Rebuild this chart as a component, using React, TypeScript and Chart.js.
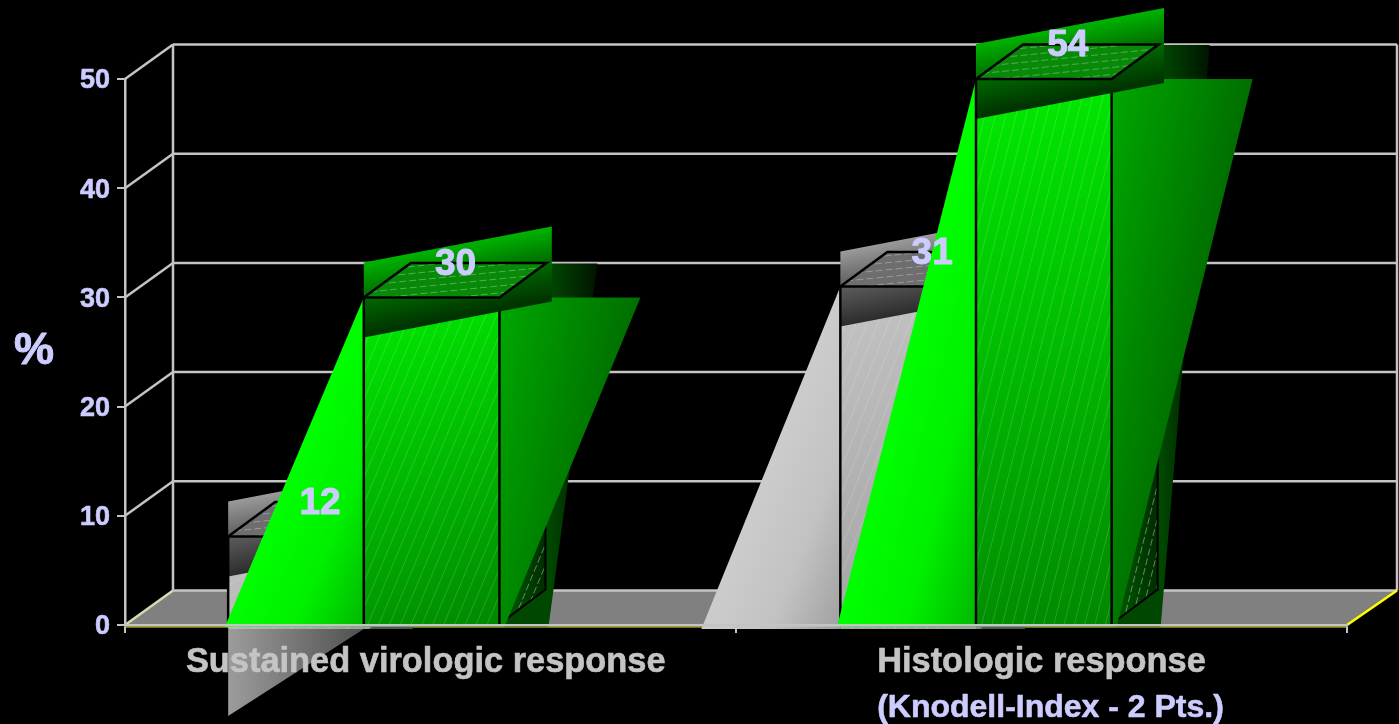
import React, { useEffect, useRef } from "react";
import { Chart, registerables } from "chart.js";

Chart.register(...registerables);

const categories = ["Sustained virologic response", "Histologic response"];
const subLabels = ["", "(Knodell-Index - 2 Pts.)"];
const yTicks = [0, 10, 20, 30, 40, 50];
// Bar heights as drawn in the picture (the 54 bar stops at the axis top)
const greySeries = [8.1, 31];
const greenSeries = [30, 50];
// Values printed on the bars
const greyLabels = ["12", "31"];
const greenLabels = ["30", "54"];

const SANS = '"Liberation Sans", Arial, sans-serif';
const LABEL = "#ccccff";
const AXIS = "#c4c4c4";
const DX = 48;
const DY = -34.5;
const BAR_SHIFTS = [-66.7, -65.5];

type P = [number, number];

const GREY = {
  wing: ["#cccccc", "#c2c2c2", "#a0a0a0"],
  face: ["#c4c4c4", "#a0a0a0"],
  band: ["#9a9a9a", "#5a5a5a", "#2c2c2c"],
  top: "#6e6e6e",
  side: ["#777777", "#444444"],
  dark: ["#555555", "#222222"],
  rwing: ["#aaaaaa", "#666666"],
};
const GREEN = {
  wing: ["#00ff00", "#00f000", "#00b800"],
  face: ["#00ee00", "#008800"],
  band: ["#00b400", "#006600", "#003000"],
  top: "#088a08",
  side: ["#006000", "#002a00"],
  dark: ["#004800", "#001400"],
  rwing: ["#00a800", "#006c00"],
};

function path(ctx: CanvasRenderingContext2D, pts: P[]) {
  ctx.beginPath();
  pts.forEach((p, i) => (i ? ctx.lineTo(p[0], p[1]) : ctx.moveTo(p[0], p[1])));
  ctx.closePath();
}

function linear(ctx: CanvasRenderingContext2D, a: P, b: P, stops: string[]) {
  const g = ctx.createLinearGradient(a[0], a[1], b[0], b[1]);
  stops.forEach((c, i) => g.addColorStop(i / (stops.length - 1), c));
  return g;
}

function fillPoly(ctx: CanvasRenderingContext2D, pts: P[], fill: any) {
  path(ctx, pts);
  ctx.fillStyle = fill;
  ctx.fill();
}

function hatch(
  ctx: CanvasRenderingContext2D,
  pts: P[],
  dir: P,
  spacing: number,
  dash: number[],
  color: string
) {
  const xs = pts.map((p) => p[0]);
  const ys = pts.map((p) => p[1]);
  const minX = Math.min(...xs), maxX = Math.max(...xs);
  const minY = Math.min(...ys), maxY = Math.max(...ys);
  const cx = (minX + maxX) / 2, cy = (minY + maxY) / 2;
  const R = Math.hypot(maxX - minX, maxY - minY);
  const len = Math.hypot(dir[0], dir[1]);
  const ux = dir[0] / len, uy = dir[1] / len;
  const nx = -uy, ny = ux;
  ctx.save();
  path(ctx, pts);
  ctx.clip();
  ctx.strokeStyle = color;
  ctx.lineWidth = 1;
  ctx.setLineDash(dash);
  for (let o = -R; o <= R; o += spacing) {
    ctx.beginPath();
    ctx.moveTo(cx + nx * o - ux * R, cy + ny * o - uy * R);
    ctx.lineTo(cx + nx * o + ux * R, cy + ny * o + uy * R);
    ctx.stroke();
  }
  ctx.restore();
}

function line(ctx: CanvasRenderingContext2D, a: P, b: P, color: string, w: number) {
  ctx.beginPath();
  ctx.moveTo(a[0], a[1]);
  ctx.lineTo(b[0], b[1]);
  ctx.strokeStyle = color;
  ctx.lineWidth = w;
  ctx.stroke();
}

function boldText(ctx: CanvasRenderingContext2D, t: string, x: number, y: number, w: number) {
  ctx.strokeStyle = ctx.fillStyle as string;
  ctx.lineWidth = w;
  ctx.lineJoin = "round";
  ctx.strokeText(t, x, y);
  ctx.fillText(t, x, y);
}

function drawBar(ctx: CanvasRenderingContext2D, el: any, shift: number, pal: typeof GREEN, isGreen: boolean) {
  const x0 = el.x - el.width / 2 + shift;
  const x1 = el.x + el.width / 2 + shift;
  const top = el.y;
  const base = el.base;
  const h = base - top;
  const short = h < 120;
  const low = base + (isGreen ? 3 : 5);

  // dark receding shadow behind the bar
  fillPoly(
    ctx,
    [[x1 + 51, top - 34], [x1 + 98, top - 34], [x1 + 49, low], [x1 + 5, low]],
    linear(ctx, [x1, top], [x1 + 98, top], [pal.dark[0], pal.dark[0], pal.dark[1]])
  );

  // side face with hatch
  const side: P[] = [[x1, top], [x1 + DX - 2, top + DY], [x1 + DX - 2, base + DY], [x1, base]];
  fillPoly(ctx, side, linear(ctx, [x1, top], [x1 + DX, top], pal.side));
  hatch(ctx, side, [136, -h], 8, [7, 3], "rgba(255,255,255,0.4)");
  path(ctx, side);
  ctx.strokeStyle = "#000";
  ctx.lineWidth = 2;
  ctx.stroke();

  // right wing
  fillPoly(
    ctx,
    [[x1, top], [x1 + 141, top], [x1 + 5, low], [x1, low]],
    linear(ctx, [x1, top], [x1 + 141, top + 30], pal.rwing)
  );

  // front face
  const face: P[] = [[x0, top], [x1, top], [x1, low], [x0, low]];
  fillPoly(ctx, face, linear(ctx, [x0, top], [x1, base], pal.face));
  hatch(ctx, face, [136, -h], 10, [], "rgba(255,255,255,0.16)");

  // left wing, or the downward wing on the short bar
  if (short) {
    fillPoly(
      ctx,
      [[x0, low], [x1, low], [x0, low + 87]],
      linear(ctx, [x0, low], [x1, low], ["#9c9c9c", "#505050"])
    );
  } else {
    const w = 139;
    const H = low - top;
    const L = Math.hypot(w, H);
    const d = (w * H) / L;
    const nx = H / L, ny = w / L;
    const corner: P = [x0, low];
    fillPoly(
      ctx,
      [[x0 - w, low], [x0, top], [x0, low]],
      linear(ctx, [corner[0] - nx * d, corner[1] - ny * d], corner, pal.wing)
    );
  }

  // front outlines
  line(ctx, [x1, top], [x1, base], "#000", 2.5);

  // shaded band across the bar top
  const W = 188;
  const band: P[] = [[x0, top - 35], [x0 + W, top - 71], [x0 + W, top + 4], [x0, top + 40]];
  const mid: P = [x0 + W / 2, top - 53];
  fillPoly(ctx, band, linear(ctx, mid, [mid[0] + 14, mid[1] + 72], pal.band));

  // top face
  const lid: P[] = [[x0, top], [x0 + 47, top + DY], [x1 + 47, top + DY], [x1, top]];
  fillPoly(ctx, lid, pal.top);
  hatch(ctx, lid, [1, -0.1], 7, [7, 3], "rgba(255,255,255,0.3)");
  path(ctx, lid);
  ctx.strokeStyle = "#000";
  ctx.lineWidth = 2.5;
  ctx.stroke();
  line(ctx, [x0, top], [x0, base], "#000", 2.5);
}

const scene = {
  id: "scene3d",
  beforeDatasetsDraw(chart: any) {
    const { ctx, scales } = chart;
    const x = scales.x;
    const y = scales.y;
    const left = x.left;
    const right = x.right;
    const y0 = y.getPixelForValue(0);
    ctx.save();
    // floor
    fillPoly(
      ctx,
      [[left, y0], [left + DX, y0 + DY], [right + 50, y0 + DY], [right, y0]],
      "#808080"
    );
    line(ctx, [left, y0 + 2], [right, y0 + 2], "#e8e800", 1);
    // back wall and left wall
    yTicks.forEach((v) => {
      const py = y.getPixelForValue(v);
      line(ctx, [left, py], [left + DX, py + DY], v === 0 ? "#d8d8b0" : AXIS, 2.5);
      line(ctx, [left + DX, py + DY], [right + 50, py + DY], AXIS, 2.5);
    });
    const yTop = y.getPixelForValue(50);
    line(ctx, [left + DX, yTop + DY], [left + DX, y0 + DY], AXIS, 2.5);
    line(ctx, [right + 50, yTop + DY], [right + 50, y0 + DY], AXIS, 2.5);
    line(ctx, [right, y0], [right + 50, y0 + DY], "#ffff00", 2.5);

    // bars, grey under green
    const grey = chart.getDatasetMeta(0).data;
    const green = chart.getDatasetMeta(1).data;
    categories.forEach((_, i) => {
      drawBar(ctx, grey[i], BAR_SHIFTS[i], GREY as any, false);
      drawBar(ctx, green[i], BAR_SHIFTS[i], GREEN, true);
    });
    ctx.restore();
    return false;
  },
  afterDraw(chart: any) {
    const { ctx, scales } = chart;
    ctx.save();
    ctx.textAlign = "center";
    ctx.textBaseline = "middle";
    ctx.fillStyle = LABEL;
    // value labels
    ctx.font = `bold 37px ${SANS}`;
    [chart.getDatasetMeta(0).data, chart.getDatasetMeta(1).data].forEach((els: any[], s) => {
      const labs = s === 0 ? greyLabels : greenLabels;
      els.forEach((el, i) => {
        boldText(ctx, labs[i], el.x + BAR_SHIFTS[i] + 24, el.y - 33, 1);
      });
    });
    // axis unit
    ctx.font = `bold 45px ${SANS}`;
    boldText(ctx, "%", 34, 352, 1);
    // second line of the category label
    subLabels.forEach((t, i) => {
      if (!t) return;
      ctx.font = `bold 34.4px ${SANS}`;
      const w = ctx.measureText(categories[i]).width;
      const lx = scales.x.getPixelForValue(i) - w / 2;
      ctx.font = `bold 32px ${SANS}`;
      ctx.textAlign = "left";
      boldText(ctx, t, lx, 708, 0.6);
    });
    ctx.restore();
  },
};

export default function App() {
  const ref = useRef<HTMLCanvasElement>(null);
  useEffect(() => {
    const chart = new Chart(ref.current as HTMLCanvasElement, {
      type: "bar",
      data: {
        labels: categories,
        datasets: [
          { label: "Grey", data: greySeries, backgroundColor: "#c0c0c0" },
          { label: "Green", data: greenSeries, backgroundColor: "#00c000" },
        ],
      },
      options: {
        responsive: false,
        animation: false,
        events: [],
        layout: { padding: { left: 0, right: 52, top: 79, bottom: 0 } },
        datasets: { bar: { categoryPercentage: 0.444, barPercentage: 1 } },
        plugins: { legend: { display: false }, tooltip: { enabled: false }, title: { display: false } },
        scales: {
          x: {
            afterFit: (s: any) => {
              s.height = 99;
            },
            grid: { drawOnChartArea: false, drawTicks: true, tickLength: 8, tickColor: AXIS, lineWidth: 2, z: 1 },
            border: { color: AXIS, width: 2.5, z: 1 },
            ticks: {
              z: 1,
              color: AXIS,
              font: { family: SANS, size: 34.4, weight: "bold" },
              maxRotation: 0,
              minRotation: 0,
              autoSkip: false,
              padding: 9,
              textStrokeColor: AXIS,
              textStrokeWidth: 0.6,
              callback: (_v: any, i: number) => (i === 0 ? categories[i] + " " : categories[i]),
            },
          },
          y: {
            min: 0,
            max: 50,
            afterFit: (s: any) => {
              s.width = 125;
            },
            afterBuildTicks: (s: any) => {
              s.ticks = yTicks.map((value) => ({ value }));
            },
            grid: { drawOnChartArea: false, drawTicks: true, tickLength: 8, tickColor: AXIS, lineWidth: 2 },
            border: { color: AXIS, width: 2.5, z: 1 },
            ticks: {
              color: LABEL,
              font: { family: SANS, size: 27, weight: "bold" },
              padding: 7,
              labelOffset: 2,
              textStrokeColor: LABEL,
              textStrokeWidth: 0.6,
            },
          },
        },
      },
      plugins: [scene],
    } as any);
    return () => chart.destroy();
  }, []);
  return (
    <div style={{ position: "fixed", left: 0, top: 0, width: 1399, height: 724, background: "#000", overflow: "hidden" }}>
      <canvas ref={ref} width={1399} height={724} style={{ display: "block" }} />
    </div>
  );
}
